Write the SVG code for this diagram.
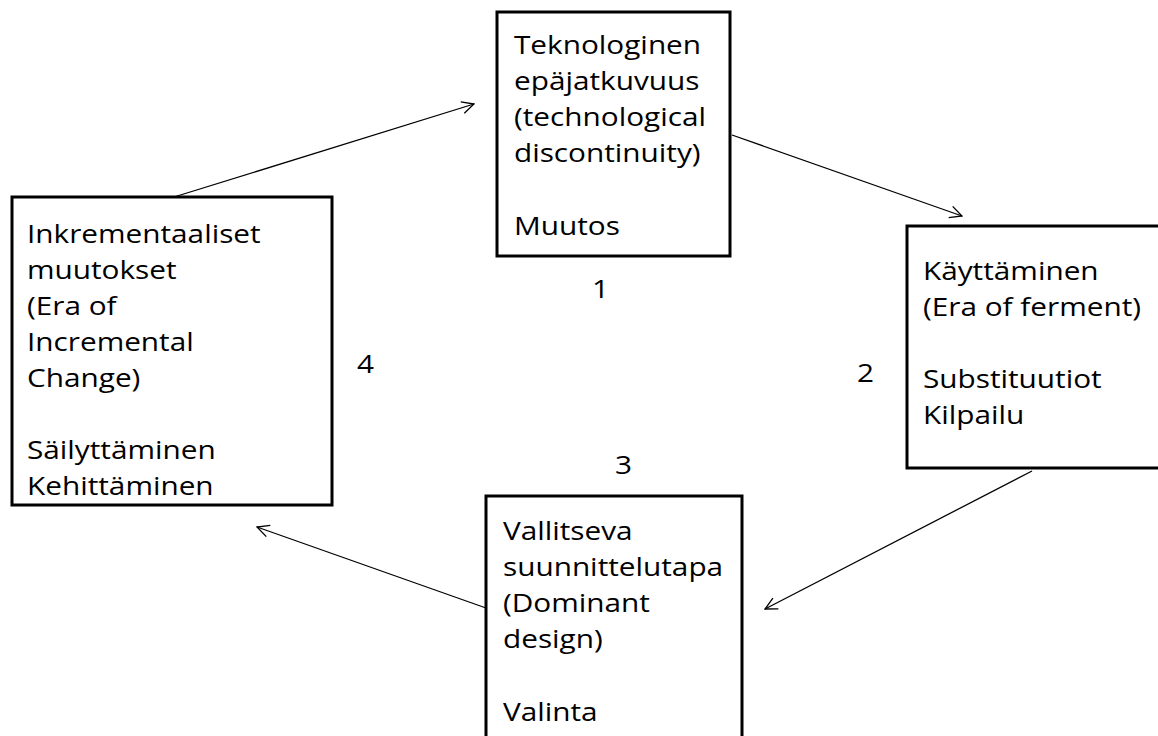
<svg xmlns="http://www.w3.org/2000/svg" width="1158" height="736" viewBox="0 0 1158 736">
  <style>
    .box { fill: #ffffff; stroke: #000000; stroke-width: 3; }
    .lbl { font-family: "Open Sans", "Noto Sans", "DejaVu Sans", sans-serif; font-size: 25px; fill: #000000;
           transform-box: fill-box; transform-origin: left center; transform: scaleX(1.19); }
    .edge { fill: none; stroke: #000000; stroke-width: 1.3; marker-end: url(#open); }
  </style>
  <defs>
    <marker id="open" viewBox="0 0 14 14" refX="13" refY="7" markerWidth="14" markerHeight="14" markerUnits="userSpaceOnUse" orient="auto">
      <path d="M1,1 L13,7 L1,13" fill="none" stroke="#000000" stroke-width="1.3"/>
    </marker>
  </defs>
  <rect width="1158" height="736" fill="#ffffff"/>

  <g id="connectors">
    <line class="edge" x1="174" y1="197" x2="474" y2="104"/>
    <line class="edge" x1="732" y1="135" x2="962" y2="216"/>
    <line class="edge" x1="1032" y1="471" x2="765" y2="609"/>
    <line class="edge" x1="486" y1="608" x2="257" y2="527"/>
  </g>

  <g id="node-discontinuity">
    <rect class="box" x="497" y="12" width="233" height="244"/>
    <text class="lbl" x="514" y="54">Teknologinen</text>
    <text class="lbl" x="514" y="90">epäjatkuvuus</text>
    <text class="lbl" x="514" y="126">(technological</text>
    <text class="lbl" x="514" y="162">discontinuity)</text>
    <text class="lbl" x="514" y="235">Muutos</text>
  </g>

  <g id="node-ferment">
    <rect class="box" x="907" y="226" width="270" height="242"/>
    <text class="lbl" x="923" y="280">Käyttäminen</text>
    <text class="lbl" x="923" y="316">(Era of ferment)</text>
    <text class="lbl" x="923" y="388">Substituutiot</text>
    <text class="lbl" x="923" y="424">Kilpailu</text>
  </g>

  <g id="node-dominant">
    <rect class="box" x="486" y="496" width="256" height="260"/>
    <text class="lbl" x="503" y="540">Vallitseva</text>
    <text class="lbl" x="503" y="576">suunnittelutapa</text>
    <text class="lbl" x="503" y="612">(Dominant</text>
    <text class="lbl" x="503" y="648">design)</text>
    <text class="lbl" x="503" y="721">Valinta</text>
  </g>

  <g id="node-incremental">
    <rect class="box" x="12" y="197" width="320" height="308"/>
    <text class="lbl" x="27" y="243">Inkrementaaliset</text>
    <text class="lbl" x="27" y="279">muutokset</text>
    <text class="lbl" x="27" y="315">(Era of</text>
    <text class="lbl" x="27" y="351">Incremental</text>
    <text class="lbl" x="27" y="387">Change)</text>
    <text class="lbl" x="27" y="459">Säilyttäminen</text>
    <text class="lbl" x="27" y="495">Kehittäminen</text>
  </g>

  <g id="phase-numbers">
    <text class="lbl" x="592" y="298">1</text>
    <text class="lbl" x="857" y="382">2</text>
    <text class="lbl" x="615" y="474">3</text>
    <text class="lbl" x="357" y="373">4</text>
  </g>
</svg>
